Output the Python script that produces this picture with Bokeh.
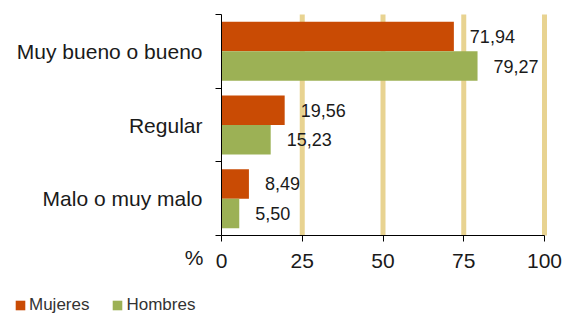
from bokeh.plotting import figure
from bokeh.models import (Range1d, FixedTicker, Legend, LegendItem, Label,
                          ColumnDataSource, LabelSet)
from bokeh.core.properties import value
from bokeh.embed import file_html
from bokeh.resources import INLINE

# ---- data ----
categories = ["Muy bueno o bueno", "Regular", "Malo o muy malo"]
mujeres = [71.94, 19.56, 8.49]
hombres = [79.27, 15.23, 5.50]
series_names = ["Mujeres", "Hombres"]
x_ticks = [0, 25, 50, 75, 100]

ORANGE = "#C94B04"
GREEN = "#9CB155"
TAN = "#E8D391"
TXT = "#1a1a1a"
FONT = "Liberation Sans"

W, H = 564, 317
# pixel layout of the data area inside the canvas
LEFT, RIGHT, TOP, BOTTOM = 221, 544, 14, 235

n = len(categories)
xmax = x_ticks[-1]
centers = [n - i - 0.5 for i in range(n)]

def fmt(v):
    return f"{v:.2f}".replace(".", ",")

src_m = ColumnDataSource(dict(y=[c + 0.2 for c in centers], x=mujeres,
                              lab=[fmt(v) for v in mujeres]))
src_h = ColumnDataSource(dict(y=[c - 0.2 for c in centers], x=hombres,
                              lab=[fmt(v) for v in hombres]))

# ranges chosen so the data area sits at LEFT..RIGHT / TOP..BOTTOM
pxx = (RIGHT - LEFT) / xmax
pxy = (BOTTOM - TOP) / n
x_range = Range1d(-LEFT / pxx, (W - LEFT) / pxx)
y_range = Range1d(-(H - BOTTOM) / pxy, n + TOP / pxy)

p = figure(width=W, height=H, output_backend="svg", toolbar_location=None,
           x_range=x_range, y_range=y_range,
           min_border_left=0, min_border_right=0, min_border_top=0,
           min_border_bottom=0)
p.outline_line_color = None
p.grid.visible = False

# vertical grid lines (behind bars)
grid_ticks = [t for t in x_ticks if t > 0]
p.segment(x0=grid_ticks, x1=grid_ticks, y0=[0] * len(grid_ticks),
          y1=[n] * len(grid_ticks), line_color=TAN, line_width=5)

r_m = p.hbar(y="y", right="x", left=0, height=0.4, source=src_m,
             fill_color=ORANGE, line_color=None)
r_h = p.hbar(y="y", right="x", left=0, height=0.4, source=src_h,
             fill_color=GREEN, line_color=None)

for src in (src_m, src_h):
    ls = LabelSet(x="x", y="y", text="lab", source=src, x_offset=16,
                  text_align="left", text_baseline="middle",
                  text_font=value(FONT), text_font_size=value("18px"),
                  text_color=TXT)
    p.add_layout(ls)

# x axis
xa = p.xaxis[0]
xa.fixed_location = 0
xa.bounds = (0, xmax)
xa.ticker = FixedTicker(ticks=x_ticks)
xa.major_tick_out = 6
xa.major_tick_in = 0
xa.minor_tick_line_color = None
xa.axis_line_color = "black"
xa.major_tick_line_color = "black"
xa.major_label_text_font = FONT
xa.major_label_text_font_size = "21px"
xa.major_label_text_color = TXT
xa.major_label_standoff = 12

# y axis: labels at centres, ticks at band boundaries
ya = p.yaxis[0]
ya.fixed_location = 0
ya.bounds = (0, n)
ya.ticker = FixedTicker(ticks=centers, minor_ticks=list(range(n + 1)))
ya.major_label_overrides = {c: categories[i] for i, c in enumerate(centers)}
ya.major_tick_line_color = None
ya.major_tick_out = 0
ya.major_tick_in = 0
ya.minor_tick_out = 6
ya.minor_tick_in = 0
ya.minor_tick_line_color = "black"
ya.axis_line_color = "black"
ya.major_label_text_font = FONT
ya.major_label_text_font_size = "21px"
ya.major_label_text_color = TXT
ya.major_label_standoff = 13

pct = Label(x=0, y=0, x_offset=-18, y_offset=-10, text="%", text_align="right",
            text_baseline="top", text_font=FONT, text_font_size="21px",
            text_color=TXT)
p.add_layout(pct)

legend = Legend(items=[LegendItem(label=series_names[0], renderers=[r_m]),
                       LegendItem(label=series_names[1], renderers=[r_h])],
                orientation="horizontal", location=(14, 2),
                padding=0, margin=0, spacing=22, label_standoff=3,
                glyph_width=12, glyph_height=12, label_height=17,
                label_text_font=FONT, label_text_font_size="17px",
                label_text_color="#333333",
                border_line_color=None, background_fill_alpha=0)
p.add_layout(legend, "center")

open("out.html", "w").write(file_html(p, INLINE))
